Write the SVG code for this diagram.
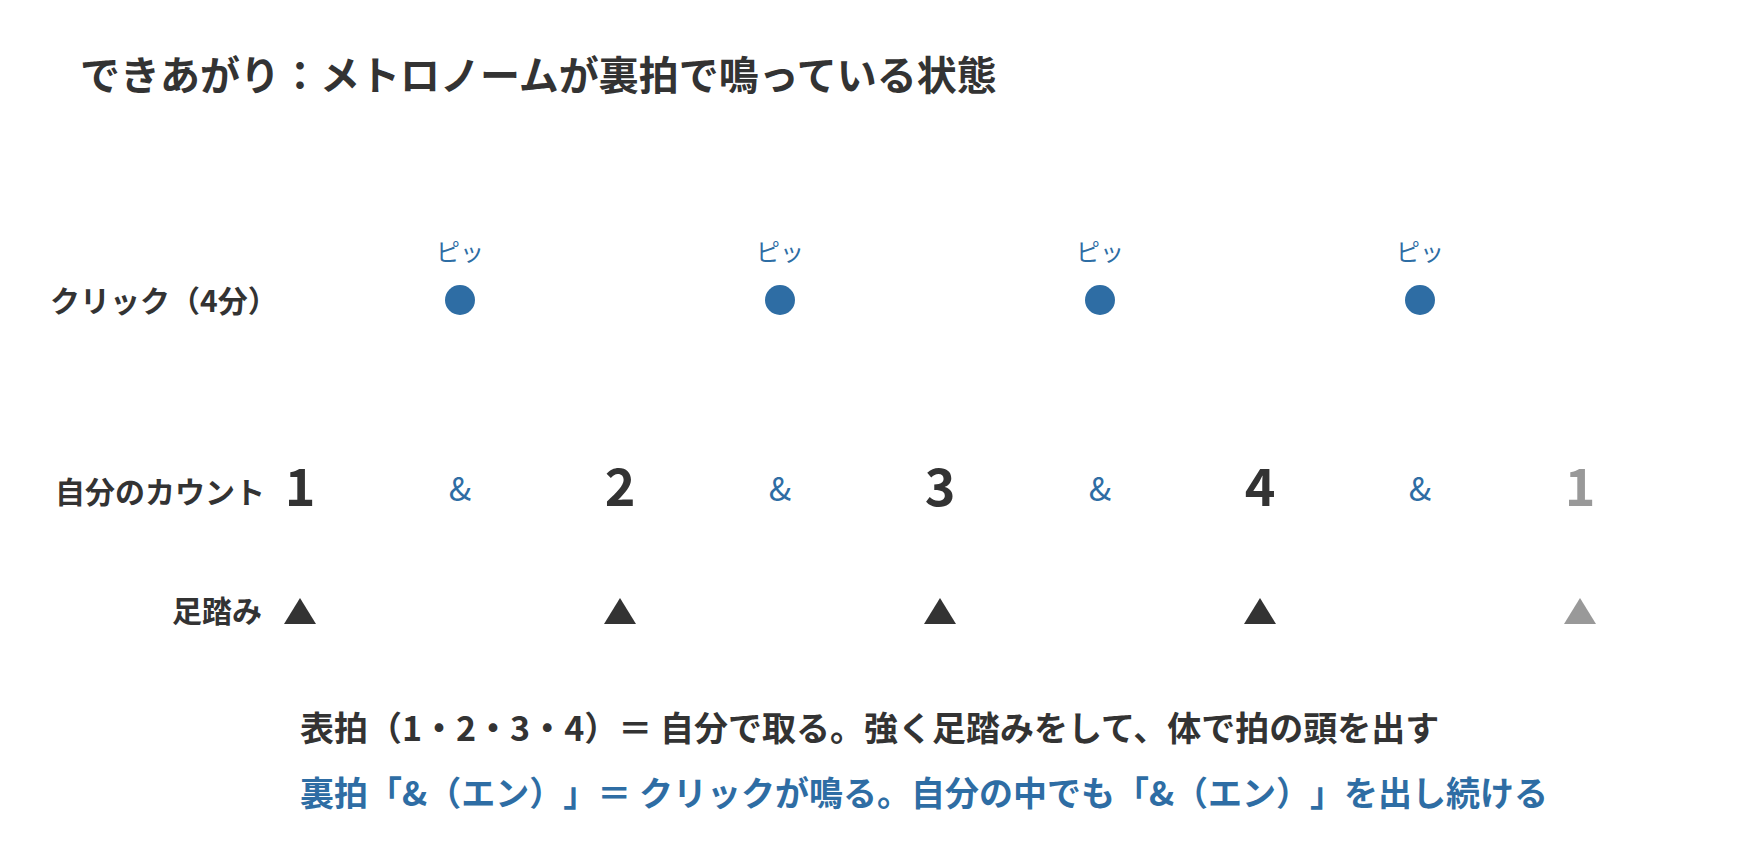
<svg xmlns="http://www.w3.org/2000/svg" width="1760" height="860" viewBox="0 0 1760 860">
<style>
text{font-family:"Noto Sans CJK JP","Noto Sans",sans-serif;text-spacing-trim:space-all;font-feature-settings:"chws" 0,"halt" 0}
.title{font-size:40px;font-weight:700;fill:#333}
.label{font-size:30px;font-weight:700;fill:#333}
.pi{font-size:24px;fill:#2e6da4;text-anchor:middle}
.num{font-size:52px;font-weight:700;fill:#333;text-anchor:middle}
.num.next{fill:#999}
.amp{font-size:33px;fill:#2e6da4;text-anchor:middle}
.dot{fill:#2e6da4}
.tri{fill:#333}
.tri.next{fill:#999}
.note{font-size:34px;font-weight:700;fill:#333}
.note.blue{fill:#2e6da4}
</style>
<rect width="1760" height="860" fill="#fff"/>
<g id="title"><text class="title" x="80" y="90">できあがり：メトロノームが裏拍で鳴っている状態</text></g>
<g id="labels">
<text class="label" x="50" y="312">クリック（4分）</text>
<text class="label" x="55" y="503">自分のカウント</text>
<text class="label" x="172" y="622">足踏み</text>
</g>
<g id="clicks">
<g id="click1"><text class="pi" x="460" y="261">ピッ</text><circle class="dot" cx="460" cy="300" r="15"/></g>
<g id="click2"><text class="pi" x="780" y="261">ピッ</text><circle class="dot" cx="780" cy="300" r="15"/></g>
<g id="click3"><text class="pi" x="1100" y="261">ピッ</text><circle class="dot" cx="1100" cy="300" r="15"/></g>
<g id="click4"><text class="pi" x="1420" y="261">ピッ</text><circle class="dot" cx="1420" cy="300" r="15"/></g>
</g>
<g id="counts">
<text class="num" x="300" y="506">1</text>
<text class="amp" x="460" y="501">&amp;</text>
<text class="num" x="620" y="506">2</text>
<text class="amp" x="780" y="501">&amp;</text>
<text class="num" x="940" y="506">3</text>
<text class="amp" x="1100" y="501">&amp;</text>
<text class="num" x="1260" y="506">4</text>
<text class="amp" x="1420" y="501">&amp;</text>
<text class="num next" x="1580" y="506">1</text>
</g>
<g id="steps">
<polygon class="tri" points="300,598 316,624 284,624"/>
<polygon class="tri" points="620,598 636,624 604,624"/>
<polygon class="tri" points="940,598 956,624 924,624"/>
<polygon class="tri" points="1260,598 1276,624 1244,624"/>
<polygon class="tri next" points="1580,598 1596,624 1564,624"/>
</g>
<g id="connectors"></g>
<g id="notes">
<text class="note" x="300" y="741">表拍（1・2・3・4）＝ 自分で取る。強く足踏みをして、体で拍の頭を出す</text>
<text class="note blue" x="300" y="806">裏拍「&amp;（エン）」＝ クリックが鳴る。自分の中でも「&amp;（エン）」を出し続ける</text>
</g>
</svg>
